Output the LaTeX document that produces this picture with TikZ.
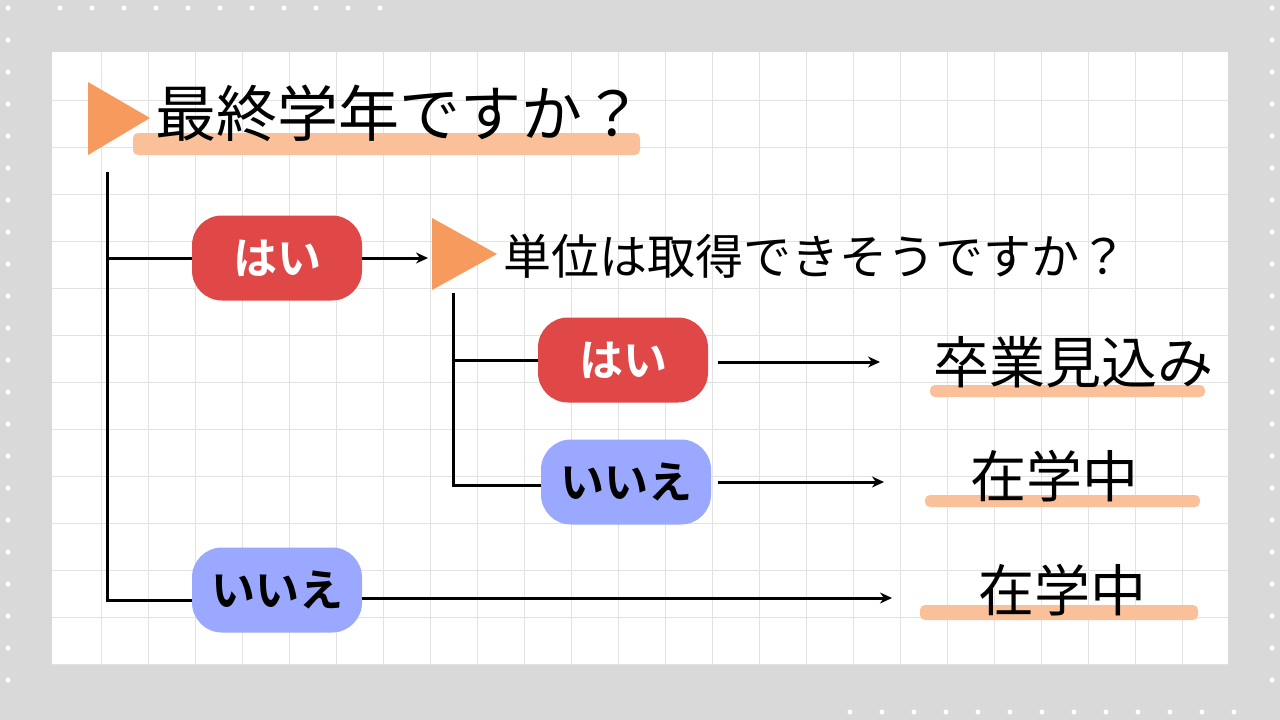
\documentclass[tikz,border=0pt]{standalone}
\usepackage{fontspec}
\newfontfamily\jp{Noto Sans CJK JP}
\newfontfamily\jpb{Noto Sans CJK JP Bold}
\definecolor{bg}{HTML}{D9D9D9}
\definecolor{gridc}{HTML}{E2E2E2}
\definecolor{tri}{HTML}{F79A5E}
\definecolor{hl}{HTML}{F9C09A}
\definecolor{redp}{HTML}{E04848}
\definecolor{bluep}{HTML}{9BA8FF}
\tikzset{
 pill/.style={rounded corners=30pt,minimum width=170pt,minimum height=85pt,inner sep=0pt,font=\jpb\fontsize{44pt}{44pt}\selectfont},
 yes/.style={pill,fill=redp,text=white},
 no/.style={pill,fill=bluep,text=black},
 conn/.style={line width=3pt,black},
 arr/.style={conn,-{Stealth[length=12pt,width=11pt]}},
 lab/.style={inner sep=0pt,font=\jp\fontsize{56pt}{56pt}\selectfont},
 bar/.style={fill=hl,rounded corners=5pt},
}
\usetikzlibrary{arrows.meta}
\begin{document}
\begin{tikzpicture}[x=1pt,y=-1pt]
\fill[bg] (0,0) rectangle (1280,720);
\useasboundingbox (0,0) rectangle (1280,720);
\foreach \y in {8,40,...,710} {\fill[white] (8,\y) circle (2.5); \fill[white] (1272,\y) circle (2.5);}
\foreach \x in {60,92,...,400} {\fill[white] (\x,8) circle (2.5);}
\foreach \x in {850,882,...,1250} {\fill[white] (\x,712) circle (2.5);}
\fill[white] (52,52) rectangle (1228,665);
\foreach \x in {101,148,...,1228} \draw[gridc,line width=1pt] (\x,52) -- (\x,665);
\foreach \y in {100,147,...,665} \draw[gridc,line width=1pt] (52,\y) -- (1228,\y);
% title
\fill[tri] (88,82) -- (88,155) -- (150,118) -- cycle;
\fill[bar] (133,133) rectangle (640,155);
\node[lab,font=\jp\fontsize{61pt}{61pt}\selectfont,anchor=west] (t1) at (155,113) {最終学年ですか？};
% yes branch
\node[yes] (y1) at (277,258) {はい};
\coordinate (top) at (107,172);
\coordinate (c1) at (107,258);
\coordinate (c2) at (107,600);
\draw[conn] (top) -- (c2) -- (192,600);
\draw[conn] (c1) -- (y1.west);
\coordinate (a1) at (428,258);
\draw[arr] (y1.east) -- (a1);
\fill[tri] (432,218) -- (432,290) -- (497,254) -- cycle;
\node[lab,font=\jp\fontsize{48pt}{48pt}\selectfont,anchor=west] (t2) at (503,256) {単位は取得できそうですか？};
\node[yes] (y2) at (623,360) {はい};
\node[no] (n2) at (626,482) {いいえ};
\coordinate (v2) at (453,293);
\coordinate (v2b) at (453,485);
\draw[conn] (v2) -- (v2b) -- (n2.west|-v2b);
\draw[conn] (453,360) -- (y2.west);
\fill[bar] (930,385) rectangle (1205,397);
\node[lab] (r1) at (1073,362) {卒業見込み};
\fill[bar] (925,495) rectangle (1200,507);
\node[lab] (r2) at (1054,476) {在学中};
\coordinate (e1) at (880,362);
\coordinate (e2) at (884,482);
\draw[arr] (718,362) -- (e1);
\draw[arr] (718,482) -- (e2);
% no branch
\node[no] (n1) at (277,590) {いいえ};
\fill[bar] (920,605) rectangle (1198,620);
\node[lab] (r3) at (1062,590) {在学中};
\coordinate (e3) at (892,598);
\draw[arr] (n1.east|-e3) -- (e3);
\end{tikzpicture}
\end{document}
